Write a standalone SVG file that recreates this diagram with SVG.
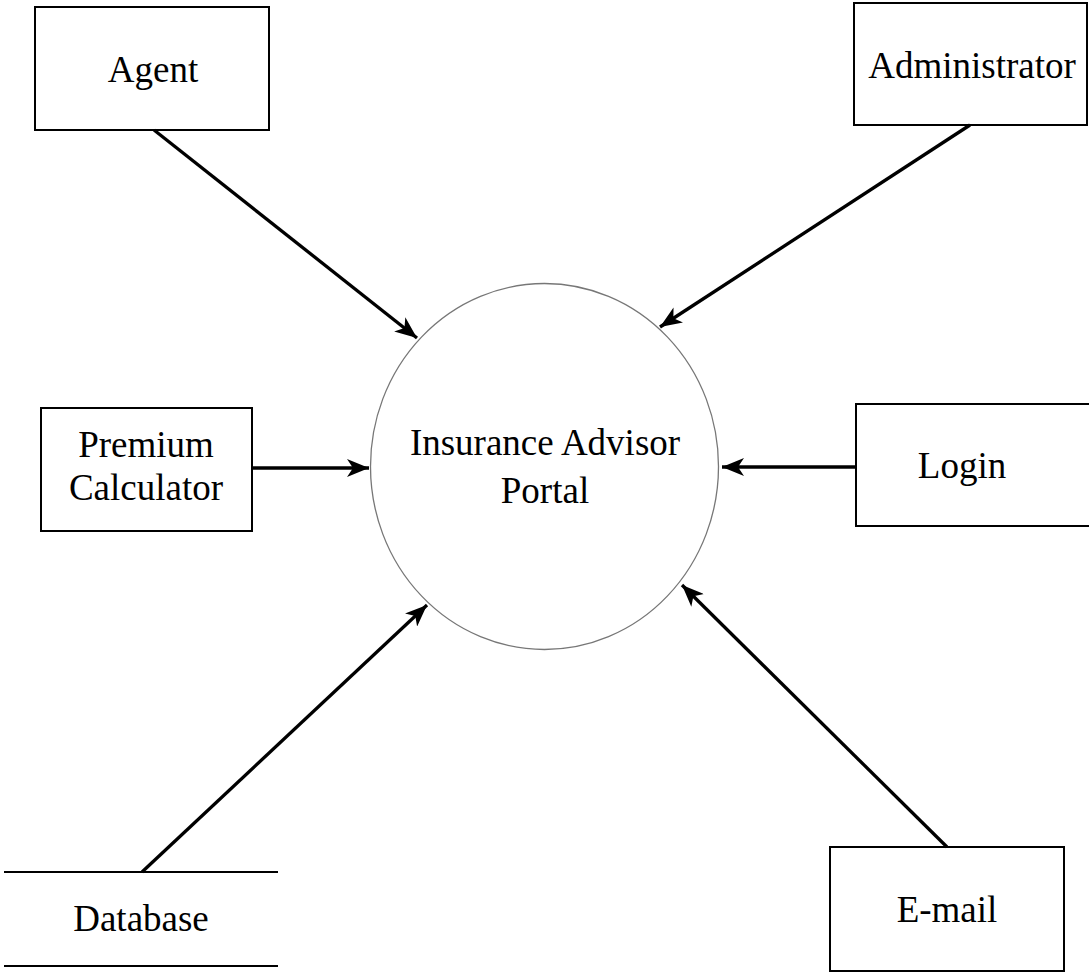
<svg xmlns="http://www.w3.org/2000/svg" width="1089" height="972" viewBox="0 0 1089 972">
  <style>
    .box { fill: #fff; stroke: #000; stroke-width: 2; }
    .store { stroke: #000; stroke-width: 2; }
    .proc { fill: #fff; stroke: #777; stroke-width: 1.3; }
    .lbl { font-family: "Liberation Serif", "Times New Roman", serif; font-size: 37px; fill: #000; text-anchor: middle; }
    .flow { stroke: #000; stroke-width: 3.3; fill: none; marker-end: url(#arrow); }
  </style>
  <defs>
    <marker id="arrow" markerUnits="userSpaceOnUse" markerWidth="24" markerHeight="18" refX="22" refY="9" orient="auto">
      <path d="M0,0 L22,9 L0,18 L6,9 Z" fill="#000"/>
    </marker>
  </defs>
  <rect width="1089" height="972" fill="#fff"/>

  <g id="portal">
    <ellipse class="proc" cx="544.5" cy="466.5" rx="174" ry="183"/>
    <text class="lbl" x="545" y="455">Insurance Advisor</text>
    <text class="lbl" x="545" y="503">Portal</text>
  </g>

  <g id="agent">
    <rect class="box" x="35" y="7" width="234" height="123"/>
    <text class="lbl" x="153" y="82">Agent</text>
  </g>

  <g id="administrator">
    <rect class="box" x="854" y="3" width="233" height="122"/>
    <text class="lbl" x="972" y="78">Administrator</text>
  </g>

  <g id="premium-calculator">
    <rect class="box" x="41" y="408" width="211" height="123"/>
    <text class="lbl" x="146" y="457">Premium</text>
    <text class="lbl" x="146" y="500">Calculator</text>
  </g>

  <g id="login">
    <rect class="box" x="856" y="404" width="235" height="122"/>
    <text class="lbl" x="962" y="478">Login</text>
  </g>

  <g id="database">
    <line class="store" x1="4" y1="872" x2="278" y2="872"/>
    <line class="store" x1="4" y1="966" x2="278" y2="966"/>
    <text class="lbl" x="141" y="931">Database</text>
  </g>

  <g id="email">
    <rect class="box" x="830" y="847" width="234" height="124"/>
    <text class="lbl" x="947" y="922">E-mail</text>
  </g>

  <g id="connectors">
    <line class="flow" x1="154" y1="130" x2="417" y2="338"/>
    <line class="flow" x1="970" y1="125" x2="660" y2="327"/>
    <line class="flow" x1="252" y1="468" x2="369" y2="468"/>
    <line class="flow" x1="856" y1="467" x2="722" y2="467"/>
    <line class="flow" x1="142" y1="872" x2="427" y2="605"/>
    <line class="flow" x1="947" y1="847" x2="682" y2="585"/>
  </g>
</svg>
